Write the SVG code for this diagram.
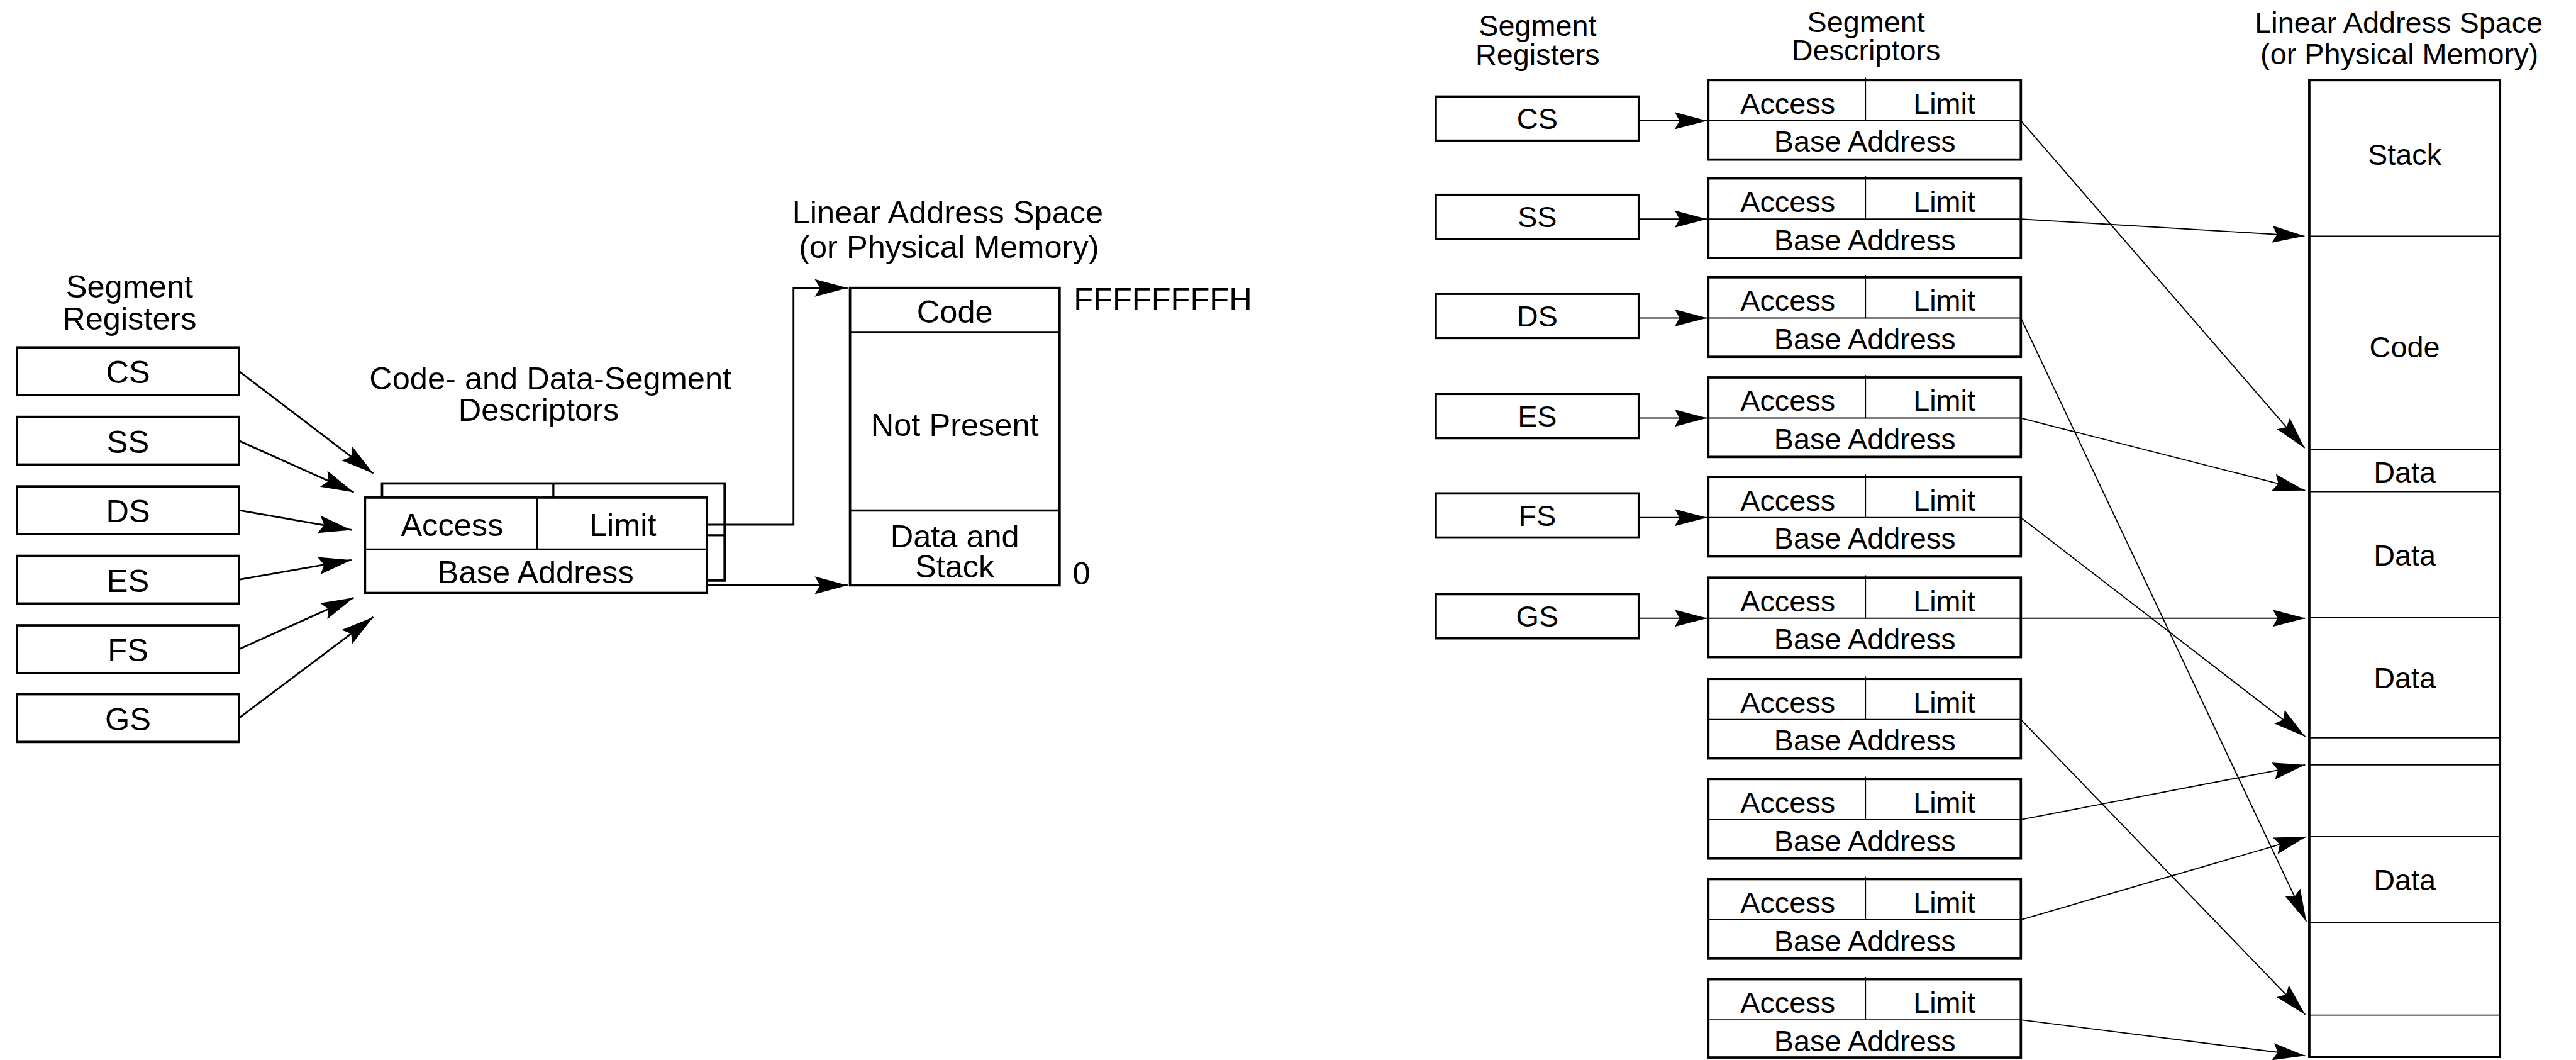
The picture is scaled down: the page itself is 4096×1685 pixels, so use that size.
<svg xmlns="http://www.w3.org/2000/svg" width="4096" height="1685" viewBox="0 0 4096 1685">
<style>
text { font-family: "Liberation Sans", Arial, Helvetica, sans-serif; fill: #000; text-anchor: middle; }
.L { font-size: 54px; }
.R { font-size: 50px; }
.st { text-anchor: start; }
.box { fill: #fff; stroke: #000; stroke-width: 4; }
.in { fill: none; stroke: #000; stroke-width: 3.5; }
.inr { fill: none; stroke: #000; stroke-width: 2; }
.cl { fill: none; stroke: #000; stroke-width: 3; }
.cr { fill: none; stroke: #000; stroke-width: 2; }
</style>
<defs>
<marker id="ahL" markerUnits="userSpaceOnUse" markerWidth="60" markerHeight="32" refX="56" refY="16" orient="auto" overflow="visible">
<path d="M0,1 L56,16 L0,31 L9,16 Z" fill="#000"/>
</marker>
<marker id="ahR" markerUnits="userSpaceOnUse" markerWidth="58" markerHeight="32" refX="55" refY="16" orient="auto" overflow="visible">
<path d="M0,1.5 L55,16 L0,30.5 L8,16 Z" fill="#000"/>
</marker>
</defs>
<rect width="4096" height="1685" fill="#fff"/>
<g transform="scale(0.936)">

<!-- LEFT DIAGRAM -->
<g id="left-headers">
<text class="L" x="220" y="505">Segment</text>
<text class="L" x="220" y="560">Registers</text>
<text class="L" x="935" y="661">Code- and Data-Segment</text>
<text class="L" x="915" y="715">Descriptors</text>
<text class="L" x="1610" y="379">Linear Address Space</text>
<text class="L" x="1612" y="438">(or Physical Memory)</text>
</g>

<g id="L-CS"><rect class="box" x="29" y="590" width="377" height="81"/><text class="L" x="217.5" y="651">CS</text></g>
<g id="L-SS"><rect class="box" x="29" y="708" width="377" height="81"/><text class="L" x="217.5" y="769">SS</text></g>
<g id="L-DS"><rect class="box" x="29" y="826" width="377" height="81"/><text class="L" x="217.5" y="887">DS</text></g>
<g id="L-ES"><rect class="box" x="29" y="944" width="377" height="81"/><text class="L" x="217.5" y="1005">ES</text></g>
<g id="L-FS"><rect class="box" x="29" y="1062" width="377" height="81"/><text class="L" x="217.5" y="1123">FS</text></g>
<g id="L-GS"><rect class="box" x="29" y="1179" width="377" height="81"/><text class="L" x="217.5" y="1240">GS</text></g>

<g id="L-descriptors">
<rect class="box" x="649" y="821" width="582" height="165"/>
<line class="in" x1="940" y1="821" x2="940" y2="845"/>
<line class="in" x1="1201" y1="909" x2="1231" y2="909"/>
<rect class="box" x="620" y="845" width="581" height="162"/>
<line class="in" x1="620" y1="933" x2="1201" y2="933"/>
<line class="in" x1="912" y1="845" x2="912" y2="933"/>
<text class="L" x="768" y="910">Access</text>
<text class="L" x="1058" y="910">Limit</text>
<text class="L" x="910" y="990">Base Address</text>
</g>

<g id="L-memory">
<rect class="box" x="1444" y="489" width="356" height="505"/>
<line class="in" x1="1444" y1="564" x2="1800" y2="564"/>
<line class="in" x1="1444" y1="867" x2="1800" y2="867"/>
<text class="L" x="1622" y="548">Code</text>
<text class="L" x="1622" y="740">Not Present</text>
<text class="L" x="1622" y="929">Data and</text>
<text class="L" x="1622" y="981">Stack</text>
<text class="L st" x="1824" y="527">FFFFFFFFH</text>
<text class="L st" x="1822" y="993">0</text>
</g>

<g id="L-connectors">
<path class="cl" d="M406,630.5 L634,804" marker-end="url(#ahL)"/>
<path class="cl" d="M406,748.5 L601,836" marker-end="url(#ahL)"/>
<path class="cl" d="M406,866.5 L597,900" marker-end="url(#ahL)"/>
<path class="cl" d="M406,984.5 L597,951" marker-end="url(#ahL)"/>
<path class="cl" d="M406,1102.5 L601,1015" marker-end="url(#ahL)"/>
<path class="cl" d="M406,1219.5 L634,1048" marker-end="url(#ahL)"/>
<path class="cl" d="M1201,891 H1348 V489 H1440" marker-end="url(#ahL)"/>
<path class="cl" d="M1201,994 H1440" marker-end="url(#ahL)"/>
</g>

<!-- RIGHT DIAGRAM -->
<g id="right-headers">
<text class="R" x="2612" y="61">Segment</text>
<text class="R" x="2612" y="110">Registers</text>
<text class="R" x="3170" y="54">Segment</text>
<text class="R" x="3170" y="103">Descriptors</text>
<text class="R" x="4075" y="56">Linear Address Space</text>
<text class="R" x="4076" y="109">(or Physical Memory)</text>
</g>

<g id="R-CS"><rect class="box" x="2439" y="164" width="345" height="75"/><text class="R" x="2611.5" y="219">CS</text></g>
<g id="R-SS"><rect class="box" x="2439" y="331" width="345" height="75"/><text class="R" x="2611.5" y="386">SS</text></g>
<g id="R-DS"><rect class="box" x="2439" y="499" width="345" height="75"/><text class="R" x="2611.5" y="554">DS</text></g>
<g id="R-ES"><rect class="box" x="2439" y="669" width="345" height="75"/><text class="R" x="2611.5" y="724">ES</text></g>
<g id="R-FS"><rect class="box" x="2439" y="838" width="345" height="75"/><text class="R" x="2611.5" y="893">FS</text></g>
<g id="R-GS"><rect class="box" x="2439" y="1009" width="345" height="75"/><text class="R" x="2611.5" y="1064">GS</text></g>

<g id="R-desc-1"><rect class="box" x="2902" y="136" width="531" height="135"/><line class="inr" x1="2902" y1="205" x2="3433" y2="205"/><line class="inr" x1="3169" y1="132" x2="3169" y2="205"/><text class="R" x="3037" y="193">Access</text><text class="R" x="3303" y="193">Limit</text><text class="R" x="3168" y="258">Base Address</text></g>
<g id="R-desc-2"><rect class="box" x="2902" y="303" width="531" height="135"/><line class="inr" x1="2902" y1="372" x2="3433" y2="372"/><line class="inr" x1="3169" y1="299" x2="3169" y2="372"/><text class="R" x="3037" y="360">Access</text><text class="R" x="3303" y="360">Limit</text><text class="R" x="3168" y="425">Base Address</text></g>
<g id="R-desc-3"><rect class="box" x="2902" y="471" width="531" height="135"/><line class="inr" x1="2902" y1="540" x2="3433" y2="540"/><line class="inr" x1="3169" y1="467" x2="3169" y2="540"/><text class="R" x="3037" y="528">Access</text><text class="R" x="3303" y="528">Limit</text><text class="R" x="3168" y="593">Base Address</text></g>
<g id="R-desc-4"><rect class="box" x="2902" y="641" width="531" height="135"/><line class="inr" x1="2902" y1="710" x2="3433" y2="710"/><line class="inr" x1="3169" y1="637" x2="3169" y2="710"/><text class="R" x="3037" y="698">Access</text><text class="R" x="3303" y="698">Limit</text><text class="R" x="3168" y="763">Base Address</text></g>
<g id="R-desc-5"><rect class="box" x="2902" y="810" width="531" height="135"/><line class="inr" x1="2902" y1="879" x2="3433" y2="879"/><line class="inr" x1="3169" y1="806" x2="3169" y2="879"/><text class="R" x="3037" y="867">Access</text><text class="R" x="3303" y="867">Limit</text><text class="R" x="3168" y="932">Base Address</text></g>
<g id="R-desc-6"><rect class="box" x="2902" y="981" width="531" height="135"/><line class="inr" x1="2902" y1="1050" x2="3433" y2="1050"/><line class="inr" x1="3169" y1="977" x2="3169" y2="1050"/><text class="R" x="3037" y="1038">Access</text><text class="R" x="3303" y="1038">Limit</text><text class="R" x="3168" y="1103">Base Address</text></g>
<g id="R-desc-7"><rect class="box" x="2902" y="1153" width="531" height="135"/><line class="inr" x1="2902" y1="1222" x2="3433" y2="1222"/><line class="inr" x1="3169" y1="1149" x2="3169" y2="1222"/><text class="R" x="3037" y="1210">Access</text><text class="R" x="3303" y="1210">Limit</text><text class="R" x="3168" y="1275">Base Address</text></g>
<g id="R-desc-8"><rect class="box" x="2902" y="1323" width="531" height="135"/><line class="inr" x1="2902" y1="1392" x2="3433" y2="1392"/><line class="inr" x1="3169" y1="1319" x2="3169" y2="1392"/><text class="R" x="3037" y="1380">Access</text><text class="R" x="3303" y="1380">Limit</text><text class="R" x="3168" y="1445">Base Address</text></g>
<g id="R-desc-9"><rect class="box" x="2902" y="1493" width="531" height="135"/><line class="inr" x1="2902" y1="1562" x2="3433" y2="1562"/><line class="inr" x1="3169" y1="1489" x2="3169" y2="1562"/><text class="R" x="3037" y="1550">Access</text><text class="R" x="3303" y="1550">Limit</text><text class="R" x="3168" y="1615">Base Address</text></g>
<g id="R-desc-10"><rect class="box" x="2902" y="1663" width="531" height="133"/><line class="inr" x1="2902" y1="1732" x2="3433" y2="1732"/><line class="inr" x1="3169" y1="1659" x2="3169" y2="1732"/><text class="R" x="3037" y="1720">Access</text><text class="R" x="3303" y="1720">Limit</text><text class="R" x="3168" y="1785">Base Address</text></g>

<g id="R-memory">
<rect class="box" x="3923" y="136" width="324" height="1659"/>
<line class="inr" x1="3923" y1="401" x2="4247" y2="401"/>
<line class="inr" x1="3923" y1="763" x2="4247" y2="763"/>
<line class="inr" x1="3923" y1="835" x2="4247" y2="835"/>
<line class="inr" x1="3923" y1="1049" x2="4247" y2="1049"/>
<line class="inr" x1="3923" y1="1253" x2="4247" y2="1253"/>
<line class="inr" x1="3923" y1="1299" x2="4247" y2="1299"/>
<line class="inr" x1="3923" y1="1421" x2="4247" y2="1421"/>
<line class="inr" x1="3923" y1="1567" x2="4247" y2="1567"/>
<line class="inr" x1="3923" y1="1724" x2="4245" y2="1724"/>
<text class="R" x="4085" y="280">Stack</text>
<text class="R" x="4085" y="607">Code</text>
<text class="R" x="4085" y="819">Data</text>
<text class="R" x="4085" y="961">Data</text>
<text class="R" x="4085" y="1169">Data</text>
<text class="R" x="4085" y="1512">Data</text>
</g>

<g id="R-connectors">
<path class="cr" d="M2784,205 H2900" marker-end="url(#ahR)"/>
<path class="cr" d="M2784,372 H2900" marker-end="url(#ahR)"/>
<path class="cr" d="M2784,540 H2900" marker-end="url(#ahR)"/>
<path class="cr" d="M2784,710 H2900" marker-end="url(#ahR)"/>
<path class="cr" d="M2784,879 H2900" marker-end="url(#ahR)"/>
<path class="cr" d="M2784,1050 H2900" marker-end="url(#ahR)"/>
<path class="cr" d="M3433,205 L3915,761" marker-end="url(#ahR)"/>
<path class="cr" d="M3433,372 L3915,401" marker-end="url(#ahR)"/>
<path class="cr" d="M3433,540 L3918,1565" marker-end="url(#ahR)"/>
<path class="cr" d="M3433,710 L3916,833" marker-end="url(#ahR)"/>
<path class="cr" d="M3433,879 L3916,1251" marker-end="url(#ahR)"/>
<path class="cr" d="M3433,1050 L3916,1050" marker-end="url(#ahR)"/>
<path class="cr" d="M3433,1222 L3916,1723" marker-end="url(#ahR)"/>
<path class="cr" d="M3433,1392 L3916,1299" marker-end="url(#ahR)"/>
<path class="cr" d="M3433,1562 L3918,1421" marker-end="url(#ahR)"/>
<path class="cr" d="M3433,1732 L3916,1793" marker-end="url(#ahR)"/>
</g>
</g>
</svg>
